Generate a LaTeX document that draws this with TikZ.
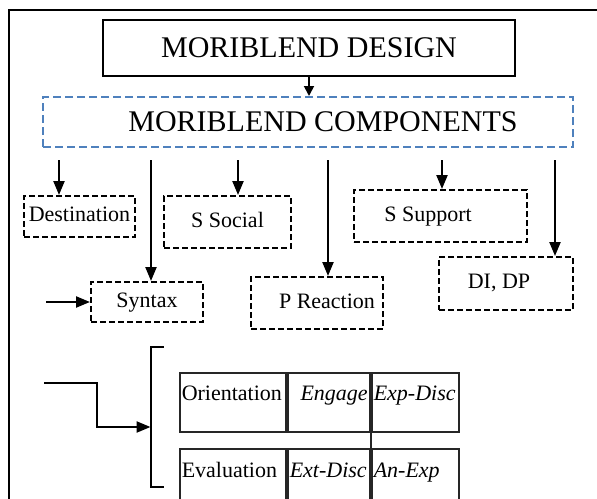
\documentclass[tikz,border=0pt]{standalone}
\usepackage{fontspec}
\setmainfont{Liberation Serif}
\usetikzlibrary{arrows.meta}
\definecolor{compblue}{RGB}{79,129,189}

\begin{document}
\begin{tikzpicture}[x=1pt, y=-1pt,
        arr/.style={-{Triangle[length=14pt,width=11pt]}, line width=2.2pt},
        big/.style={font=\fontsize{30}{36}\selectfont},
        dbox/.style={draw, line width=2pt, dash pattern=on 6pt off 3pt, inner sep=0pt,
            font=\fontsize{22}{26}\selectfont, text height=15pt, text depth=5pt},
        cell/.style={draw=black!85, line width=1.5pt, inner xsep=2pt, inner ysep=0pt,
            anchor=north west, font=\fontsize{22}{26}\selectfont},
        rowa/.style={cell, text height=28pt, text depth=31pt},
        rowb/.style={cell, text height=29pt, text depth=30pt}]
        \useasboundingbox (0,0) rectangle (597,498);
        \clip (0,0) rectangle (597,498);

        % Frame
        \draw[line width=2.5pt] (9,510) -- (9,10) -- (610,10);

        % Design and components
        \node[big, draw, line width=1.8pt, minimum width=412pt, minimum height=56pt] (design) at (309,48) {MORIBLEND DESIGN};
        \node[big, draw=compblue, line width=2pt, dash pattern=on 8pt off 4pt, minimum width=530pt, minimum height=50pt] (comp) at (308,122) {\hspace*{30pt}MORIBLEND COMPONENTS};
        \draw[-{Triangle[length=10pt,width=10pt]}, line width=1.8pt] (design.south) -- (design.south |- comp.north);

        % Component boxes
        \node[dbox, minimum width=111pt, minimum height=41pt] (dest) at (79.5,216.5) {Destination};
        \node[dbox, minimum width=127pt, minimum height=52pt] (social) at (227.5,222) {S Social};
        \node[dbox, minimum width=173pt, minimum height=52pt] (support) at (440.5,216) {S Support\hspace*{25pt}};
        \node[dbox, minimum width=134pt, minimum height=53pt] (didp) at (506,283.5) {DI, DP\hspace*{14pt}};
        \node[dbox, minimum width=112pt, minimum height=40pt] (syntax) at (147,302) {Syntax};
        \node[dbox, minimum width=132pt, minimum height=52pt] (react) at (317,303) {\hspace*{20pt}P Reaction};

        % Arrows
        \foreach \x/\t in {59/dest, 151/syntax, 238/social, 328/react, 442/support, 555/didp} {
            \coordinate (s\t) at (\x,160);
            \draw[arr] (s\t) -- (s\t |- \t.north);
        }
        \coordinate (sin) at (46,302);
        \draw[arr] (sin) -- (syntax.west);

        % Bracket and elbow
        \coordinate (btop) at (150.5,347);
        \coordinate (bbot) at (150.5,487);
        \draw[line width=2pt] ([xshift=13pt]btop) -- (btop) -- (bbot) -- ([xshift=13pt]bbot);
        \coordinate (elb) at (44,383);
        \draw[arr] (elb) -- (97,383) |- (btop |- 0,427);

        % Table
        \node[rowa, text width=102pt, align=left] (orient) at (179,372) {Orientation};
        \node[rowa, text width=78pt, align=right] (engage) at (287,372) {\itshape Engage};
        \node[rowa, text width=83pt, align=left] (expdisc) at (371,372) {\mbox{\itshape Exp-Disc}};
        \node[rowb, text width=102pt, align=left] (evalu) at (179,448) {Evaluation};
        \node[rowb, text width=78pt, align=left] (extdisc) at (287,448) {\mbox{\itshape Ext-Disc}};
        \node[rowb, text width=83pt, align=left] (anexp) at (371,448) {\mbox{\itshape An-Exp}};
        \draw[draw=black!85, line width=1.5pt] (expdisc.south west) -- (anexp.north west);

    \end{tikzpicture}
\end{document}
